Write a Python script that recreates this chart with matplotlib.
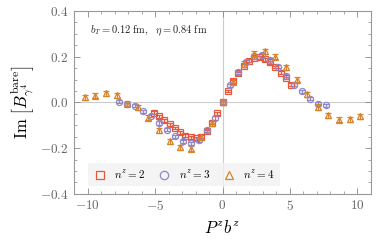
import numpy as np
import matplotlib
matplotlib.use("Agg")
import matplotlib.pyplot as plt
from matplotlib.ticker import MultipleLocator, FuncFormatter
from matplotlib.lines import Line2D

plt.rcParams['mathtext.fontset'] = 'cm'
plt.rcParams['font.family'] = ['DejaVu Serif']

k = np.arange(-13, 14)

# n^z = 2 (squares)
x2 = k * np.pi / 8
y2 = [-0.045, -0.060, -0.078, -0.095, -0.112, -0.130, -0.145, -0.152, -0.157, -0.150, -0.125, -0.088, -0.047,
      0.0,
      0.050, 0.093, 0.128, 0.160, 0.183, 0.195, 0.197, 0.188, 0.175, 0.155, 0.130, 0.107, 0.078]
e2 = [0.006] * 27

# n^z = 3 (circles)
x3 = k * 3 * np.pi / 16
y3 = [0.004, -0.008, -0.015, -0.038, -0.058, -0.090, -0.120, -0.148, -0.170, -0.178, -0.165, -0.122, -0.068,
      0.0,
      0.074, 0.132, 0.178, 0.205, 0.207, 0.186, 0.157, 0.117, 0.078, 0.049, 0.016, -0.006, -0.013]
e3 = [0.007] * 27

# n^z = 4 (triangles)
x4 = k * np.pi / 4
y4 = [0.023, 0.030, 0.040, 0.032, -0.005, -0.022, -0.068, -0.122, -0.170, -0.195, -0.203, -0.150, -0.092,
      0.0,
      0.090, 0.168, 0.212, 0.223, 0.200, 0.154, 0.099, 0.035, -0.020, -0.057, -0.076, -0.074, -0.061]
e4 = [0.011] * 27

labels = [r"$n^z = 2$", r"$n^z = 3$", r"$n^z = 4$"]
colors = ["#E8583C", "#9088CC", "#D8822A"]
markers = ["s", "o", "^"]

fig = plt.figure(figsize=(3.82, 2.43), dpi=100)
ax = fig.add_axes([0.194, 0.202, 0.777, 0.753])

ax.axhline(0, color="#cccccc", lw=0.8, zorder=0)
ax.axvline(0, color="#cccccc", lw=0.8, zorder=0)

for xs, ys, es, c, m, lab in zip([x2, x3, x4], [y2, y3, y4], [e2, e3, e4], colors, markers, labels):
    ax.errorbar(xs, ys, yerr=es, fmt=m, mfc="none", mec=c, color=c, ms=4.4, mew=0.9,
                elinewidth=0.9, capsize=2.2, capthick=0.9, label=lab)

ax.set_xlim(-11, 11)
ax.set_ylim(-0.4, 0.4)
ax.xaxis.set_major_locator(MultipleLocator(5))
ax.xaxis.set_minor_locator(MultipleLocator(1))
ax.yaxis.set_major_locator(MultipleLocator(0.2))
ax.yaxis.set_minor_locator(MultipleLocator(0.05))
ax.xaxis.set_major_formatter(FuncFormatter(lambda v, p: r"$%d$" % round(v)))
ax.yaxis.set_major_formatter(FuncFormatter(lambda v, p: r"$%.1f$" % (0.0 if abs(v) < 1e-9 else v)))
ax.tick_params(which="both", direction="in", top=True, right=True, colors="#888888",
               labelcolor="#666666", labelsize=9.5)
ax.tick_params(which="major", length=4, width=0.6, pad=4)
ax.tick_params(which="minor", length=2, width=0.5)
for s in ax.spines.values():
    s.set_color("#999999")
    s.set_linewidth(0.8)

ax.set_xlabel(r"$P^z b^z$", fontsize=12, labelpad=5)
ax.set_ylabel(r"$\mathrm{Im}\ \left[B^{\mathrm{bare}}_{\gamma^4}\right]$", fontsize=12, labelpad=2)

ax.text(0.055, 0.88, r"$b_T = 0.12\ \mathrm{fm},\ \ \eta = 0.84\ \mathrm{fm}$", transform=ax.transAxes,
        fontsize=7.5, color="#222222")

handles, labs = ax.get_legend_handles_labels()
hs = [Line2D([], [], ls="none", marker=m, mfc="none", mec=c, ms=6, mew=0.9) for m, c in zip(markers, colors)]
leg = ax.legend(hs, labs, loc="lower left", bbox_to_anchor=(0.047, 0.045), borderaxespad=0, ncol=3,
                frameon=True, fontsize=8, handletextpad=0.7, columnspacing=1.1, borderpad=0.45,
                handlelength=1.2)
leg.get_frame().set_facecolor("#f2f2f2")
leg.get_frame().set_edgecolor("none")
leg.get_frame().set_boxstyle("square", pad=0)

fig.savefig("out.png", dpi=100)
